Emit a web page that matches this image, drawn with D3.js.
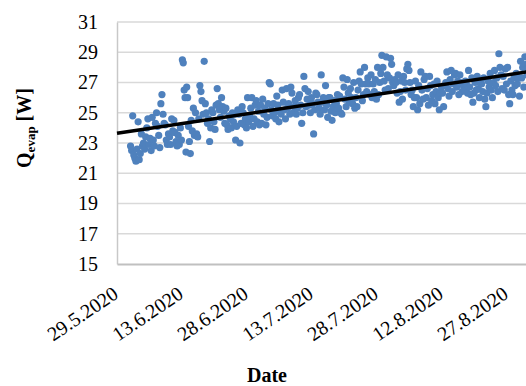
<!DOCTYPE html>
<html>
<head>
<meta charset="utf-8">
<script src="https://cdn.jsdelivr.net/npm/d3@7"></script>
<style>
  html, body { margin: 0; padding: 0; background: #fff; }
  svg { display: block; }
  svg text { font-family: "Liberation Serif", "Times New Roman", serif !important; fill: #000; }
</style>
</head>
<body>
<svg id="chart" width="526" height="386"></svg>
<script>
// data
const firstDay = "1.6.2020";
// evaporator heat flow, several readings per day starting at firstDay
const dailyQevap = [
  [22.8, 22.5, 24.8, 22.2],
  [22.0, 21.8, 22.6, 24.4],
  [21.9, 22.3, 23.6, 22.8],
  [23.0, 22.6, 23.4, 24.0],
  [24.6, 22.9, 23.3, 22.5],
  [24.7, 23.2, 22.8, 24.3],
  [25.0, 24.1, 23.5, 22.7],
  [25.6, 26.2, 24.9, 24.3],
  [24.2, 23.2, 22.9, 23.6],
  [23.4, 22.9, 24.6, 23.8],
  [24.5, 23.7, 23.1, 22.8],
  [23.5, 22.9, 24.0, 23.2],
  [28.5, 28.3, 26.5, 26.0, 22.4],
  [26.7, 26.0, 24.1, 23.1, 22.3],
  [24.5, 23.8, 25.3, 23.5],
  [25.0, 23.6, 23.4, 24.6],
  [26.8, 26.4, 25.8, 24.9],
  [28.4, 25.6, 25.0, 24.3],
  [24.6, 23.1, 24.0, 25.2],
  [25.0, 24.4, 23.9, 25.5],
  [26.6, 25.6, 25.2, 24.7],
  [26.0, 25.4, 25.1, 24.3],
  [25.3, 24.2, 23.9, 24.8],
  [24.6, 24.0, 25.0, 24.4],
  [24.9, 23.2, 24.1, 25.2],
  [24.9, 23.0, 24.3, 25.4],
  [25.0, 24.2, 24.6, 24.0],
  [26.0, 24.4, 24.8, 25.3],
  [26.0, 24.1, 24.6, 25.5],
  [25.8, 24.4, 25.1, 24.2],
  [25.5, 24.3, 25.9, 24.9],
  [25.3, 24.2, 24.7, 25.6],
  [27.0, 26.9, 25.2, 24.8],
  [25.6, 25.0, 24.6, 26.1],
  [25.5, 24.4, 25.1, 24.9],
  [26.5, 25.7, 25.2, 24.6],
  [26.6, 25.3, 25.6, 24.9],
  [26.7, 26.3, 25.0, 25.4],
  [25.8, 24.9, 25.3, 26.0],
  [26.2, 25.5, 24.3, 25.0],
  [27.4, 26.6, 25.4, 25.9],
  [26.4, 25.5, 25.0, 26.0],
  [25.6, 23.6, 25.2, 26.3],
  [26.2, 25.7, 25.3, 24.9],
  [27.5, 25.7, 26.0, 25.2],
  [26.8, 25.5, 24.7, 26.0],
  [26.0, 25.1, 24.5, 25.4],
  [25.8, 25.0, 25.6, 26.2],
  [25.3, 26.1, 25.0, 24.9],
  [27.3, 26.7, 25.9, 25.4],
  [27.2, 26.3, 25.7, 26.6],
  [26.0, 25.6, 27.0, 25.3],
  [26.0, 25.4, 26.5, 27.1],
  [27.7, 26.9, 25.8, 26.2],
  [28.0, 26.9, 26.4, 27.3],
  [26.9, 26.2, 27.5, 26.0],
  [26.9, 26.4, 27.2, 25.9],
  [28.0, 26.2, 27.0, 27.6],
  [28.8, 28.0, 27.1, 26.5],
  [28.7, 27.5, 26.6, 27.3],
  [28.6, 28.2, 27.0, 26.8],
  [27.2, 27.0, 26.3, 27.5],
  [25.7, 26.4, 27.1, 25.9],
  [27.4, 27.0, 26.5, 27.9],
  [28.2, 27.8, 27.0, 26.2],
  [26.5, 25.4, 26.0, 27.1],
  [26.0, 25.2, 26.8, 25.6],
  [27.7, 26.5, 25.9, 27.2],
  [27.4, 26.0, 26.6, 25.5],
  [27.4, 26.8, 25.8, 26.2],
  [26.9, 25.6, 26.4, 27.1],
  [26.0, 25.2, 26.3, 26.7],
  [26.3, 25.4, 26.8, 27.0],
  [27.7, 26.6, 26.1, 27.2],
  [27.8, 26.4, 26.9, 27.5],
  [27.6, 26.7, 27.1, 26.2],
  [27.5, 27.0, 26.4, 26.8],
  [26.5, 27.1, 26.9, 26.3],
  [27.8, 26.7, 26.2, 27.3],
  [25.7, 26.3, 27.0, 26.5],
  [27.4, 26.6, 26.0, 27.0],
  [26.9, 26.4, 27.3, 25.9],
  [25.4, 26.3, 27.1, 26.7],
  [27.6, 26.5, 26.0, 27.0],
  [27.8, 26.8, 27.3, 26.4],
  [28.9, 28.0, 27.5, 26.6],
  [27.4, 26.5, 27.9, 26.9],
  [28.0, 26.2, 25.6, 27.1],
  [26.5, 26.2, 27.3, 26.8],
  [27.6, 26.9, 27.3, 26.1],
  [28.4, 27.3, 28.0, 26.7],
  [28.7, 28.2, 27.5, 27.9]
];
const trendDates = ["29.5.2020", "2.9.2020"];
const trendQevap = [23.65, 27.76];
const xDomain = ["29.5.2020", "2.9.2020"];
const xTickStepDays = 15;
const yTicks = [15, 17, 19, 21, 23, 25, 27, 29, 31];

const parse = d3.timeParse("%d.%m.%Y");
const fmt = d3.timeFormat("%-d.%-m.%Y");

// flatten readings; spread them through each day
const points = [];
const day0 = parse(firstDay);
dailyQevap.forEach((vals, i) => {
  vals.forEach((v, k) => {
    const t = d3.timeHour.offset(d3.timeDay.offset(day0, i), Math.round(24 * (k + 0.5) / vals.length));
    points.push({ t, v });
  });
});

const area = { left: 117, right: 533, top: 22, bottom: 264 };
const svg = d3.select("#chart");

const x = d3.scaleTime()
  .domain(xDomain.map(parse))
  .range([area.left, area.right]);
const y = d3.scaleLinear()
  .domain([d3.min(yTicks), d3.max(yTicks)])
  .range([area.bottom, area.top]);

// grid
svg.append("g")
  .selectAll("line")
  .data(yTicks.slice(1))
  .enter()
  .append("line")
  .attr("x1", area.left)
  .attr("x2", area.right)
  .attr("y1", d => y(d))
  .attr("y2", d => y(d))
  .attr("stroke", "#d9d9d9")
  .attr("stroke-width", 1.5);

// y axis
const yAxis = d3.axisLeft(y).tickValues(yTicks).tickSize(0).tickPadding(19);
const gy = svg.append("g")
  .attr("transform", `translate(${area.left},0)`)
  .call(yAxis)
  .attr("font-family", null)
  .attr("font-size", 20);
gy.select(".domain").attr("stroke", "#c8c8c8").attr("stroke-width", 1.5);
gy.selectAll(".tick text").attr("fill", "#000");

// x axis
const xTicks = d3.timeDay.range(parse(xDomain[0]), parse(xDomain[1]), xTickStepDays);
const xAxis = d3.axisBottom(x).tickValues(xTicks).tickSize(0).tickFormat(fmt);
const gx = svg.append("g")
  .attr("transform", `translate(0,${area.bottom})`)
  .call(xAxis)
  .attr("font-family", null)
  .attr("font-size", 20);
gx.select(".domain").attr("stroke", "#c0c0c0").attr("stroke-width", 2);
gx.selectAll(".tick text")
  .attr("fill", "#000")
  .attr("text-anchor", "end")
  .attr("dy", null)
  .attr("y", 0)
  .attr("transform", "translate(2,33) rotate(-34)");

// scatter
svg.append("g")
  .selectAll("circle")
  .data(points)
  .enter()
  .append("circle")
  .attr("cx", d => x(d.t))
  .attr("cy", d => y(d.v))
  .attr("r", 3.6)
  .attr("fill", "#4f81bd");

// linear trend
const trend = trendDates.map((d, i) => ({ t: parse(d), v: trendQevap[i] }));
svg.append("path")
  .datum(trend)
  .attr("d", d3.line().x(d => x(d.t)).y(d => y(d.v)))
  .attr("stroke", "#000")
  .attr("stroke-width", 3.5)
  .attr("fill", "none");

// titles
const yTitle = svg.append("text")
  .attr("transform", "translate(31,128) rotate(-90)")
  .attr("text-anchor", "middle")
  .style("font-size", "20px")
  .style("font-weight", "bold");
yTitle.append("tspan").text("Q");
yTitle.append("tspan").text("evap").style("font-size", "13px").attr("dy", 4);
yTitle.append("tspan").text(" [W]").attr("dy", -4);

svg.append("text")
  .attr("x", 267)
  .attr("y", 382)
  .attr("text-anchor", "middle")
  .style("font-size", "20px")
  .style("font-weight", "bold")
  .text("Date");
</script>
</body>
</html>
